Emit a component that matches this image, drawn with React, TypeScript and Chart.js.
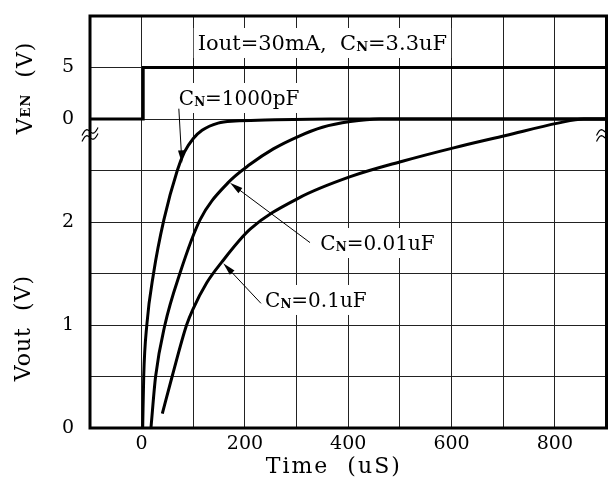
import React, { useEffect, useRef } from 'react';
import { Chart, registerables } from 'chart.js';

Chart.register(...registerables);

// ---- Data ----
const xTickStep = 100;
const xLabelEvery = 200;
// Enable signal V_EN (V)
const enTime = [-100, 3, 3, 900];
const enVolt = [0, 0, 5, 5];
// Vout curves (time in uS, Vout in V)
const c1000pTime = [2, 4, 10, 23, 43, 69, 83, 100, 117, 148, 181, 239, 365, 900];
const c1000pVolt = [0, 0.5, 1.0, 1.5, 2.02, 2.5, 2.68, 2.81, 2.89, 2.96, 2.98, 2.99, 3.0, 3.0];
const c001uTime = [18, 27, 45, 74, 113, 167, 210, 255, 303, 350, 404, 460, 900];
const c001uVolt = [0, 0.5, 1.0, 1.5, 2.02, 2.38, 2.56, 2.71, 2.83, 2.92, 2.975, 3.0, 3.0];
const c01uTime = [40, 59, 87, 99, 126, 155, 210, 303, 404, 505, 604, 705, 806, 856, 900];
const c01uVolt = [0.14, 0.5, 1.0, 1.15, 1.41, 1.61, 1.93, 2.23, 2.44, 2.59, 2.72, 2.84, 2.96, 3.0, 3.0];
// Left axis labels: lower part Vout, upper part V_EN (offset 3, scale 0.1)
const yTickValues = [0, 1, 2, 3, 3.5];
const yTickTexts = ['0', '1', '2', '0', '5'];
const enOffset = 3;
const enScale = 0.1;

const FONT = 'DejaVu Serif';

type Part = [string, boolean];

function richWidth(ctx: CanvasRenderingContext2D, parts: Part[], size: number) {
  let w = 0;
  for (const [t, sub] of parts) {
    ctx.font = sub ? `bold ${Math.round(size * 0.6)}px "${FONT}"` : `${size}px "${FONT}"`;
    w += ctx.measureText(t).width;
  }
  return w;
}

function drawRich(ctx: CanvasRenderingContext2D, x: number, y: number, parts: Part[], size: number) {
  let cx = x;
  for (const [t, sub] of parts) {
    ctx.font = sub ? `bold ${Math.round(size * 0.6)}px "${FONT}"` : `${size}px "${FONT}"`;
    ctx.fillText(t, cx, sub ? y + 1 : y);
    cx += ctx.measureText(t).width;
  }
  return cx - x;
}

interface Note { parts: Part[]; t: number; v: number; size: number; center?: boolean }
const notes: Note[] = [
  { parts: [['Iout=30mA,  C', false], ['N', true], ['=3.3uF', false]], t: 350, v: 3.67, size: 21, center: true },
  { parts: [['C', false], ['N', true], ['=1000pF', false]], t: 72, v: 3.136, size: 20 },
  { parts: [['C', false], ['N', true], ['=0.01uF', false]], t: 346, v: 1.728, size: 20 },
  { parts: [['C', false], ['N', true], ['=0.1uF', false]], t: 239, v: 1.175, size: 20 },
];
// arrows: tail (t,v) -> tip (t,v)
const arrows = [
  [72, 3.1, 78, 2.57],
  [326, 1.8, 171, 2.38],
  [231, 1.21, 158, 1.6],
];

const overlay = {
  id: 'overlay',
  beforeDatasetsDraw(chart: any) {
    const ctx: CanvasRenderingContext2D = chart.ctx;
    const xs = chart.scales.x, ys = chart.scales.y;
    ctx.save();
    ctx.letterSpacing = '0px';
    ctx.textBaseline = 'alphabetic';
    for (const n of notes) {
      const size = n.size;
      const w = richWidth(ctx, n.parts, size);
      let x = xs.getPixelForValue(n.t);
      if (n.center) x -= w / 2;
      const y = ys.getPixelForValue(n.v);
      ctx.fillStyle = '#fff';
      ctx.fillRect(x - 4, y - 22, w + 8, 30);
      ctx.fillStyle = '#000';
      drawRich(ctx, x, y, n.parts, size);
    }
    ctx.restore();
  },
  afterDraw(chart: any) {
    const ctx: CanvasRenderingContext2D = chart.ctx;
    const a = chart.chartArea;
    const xs = chart.scales.x, ys = chart.scales.y;
    ctx.save();
    // arrows
    ctx.strokeStyle = '#000';
    ctx.fillStyle = '#000';
    ctx.lineWidth = 1;
    for (const [t0, v0, t1, v1] of arrows) {
      const x0 = xs.getPixelForValue(t0), y0 = ys.getPixelForValue(v0);
      const x1 = xs.getPixelForValue(t1), y1 = ys.getPixelForValue(v1);
      const ang = Math.atan2(y1 - y0, x1 - x0);
      const L = 13, H = 3.2;
      ctx.beginPath();
      ctx.moveTo(x0, y0);
      ctx.lineTo(x1 - Math.cos(ang) * L * 0.8, y1 - Math.sin(ang) * L * 0.8);
      ctx.stroke();
      ctx.beginPath();
      ctx.moveTo(x1, y1);
      ctx.lineTo(x1 - Math.cos(ang) * L - Math.sin(ang) * H, y1 - Math.sin(ang) * L + Math.cos(ang) * H);
      ctx.lineTo(x1 - Math.cos(ang) * L + Math.sin(ang) * H, y1 - Math.sin(ang) * L - Math.cos(ang) * H);
      ctx.closePath();
      ctx.fill();
    }
    // frame
    ctx.lineWidth = 3;
    ctx.strokeRect(a.left, a.top, a.right - a.left, a.bottom - a.top);
    // break marks
    const yb = ys.getPixelForValue(2.85);
    ctx.lineWidth = 1.2;
    for (const cx of [a.left, a.right - 2]) {
      for (const dy of [-3, 3]) {
        ctx.beginPath();
        for (let i = 0; i <= 20; i++) {
          const s = i / 20;
          const x = cx - 8 + 16 * s;
          const y = yb + dy + 4 - 8 * s - 3.5 * Math.sin(2 * Math.PI * s);
          if (i === 0) ctx.moveTo(x, y); else ctx.lineTo(x, y);
        }
        ctx.stroke();
      }
    }
    // axis titles
    ctx.fillStyle = '#000';
    ctx.letterSpacing = '2px';
    ctx.font = `22px "${FONT}"`;
    ctx.textAlign = 'center';
    ctx.textBaseline = 'middle';
    ctx.fillText('Time  (uS)', xs.getPixelForValue(372), 467);
    // Vout title
    ctx.letterSpacing = '1px';
    ctx.save();
    ctx.translate(24, ys.getPixelForValue(0.97));
    ctx.rotate(-Math.PI / 2);
    ctx.fillText('Vout  (V)', 0, 0);
    ctx.restore();
    // V_EN title
    ctx.save();
    ctx.translate(26, ys.getPixelForValue(3.33));
    ctx.rotate(-Math.PI / 2);
    ctx.textAlign = 'left';
    ctx.textBaseline = 'middle';
    const parts: Part[] = [['V', false], ['EN', true], ['  (V)', false]];
    const w = richWidth(ctx, parts, 22) + 6;
    drawRich(ctx, -w / 2, 0, parts, 22);
    ctx.restore();
    ctx.restore();
  },
};

export default function App() {
  const ref = useRef<HTMLCanvasElement>(null);
  useEffect(() => {
    const canvas = ref.current!;
    const mk = (ts: number[], vs: number[]) => ts.map((t, i) => ({ x: t, y: vs[i] }));
    const lineStyle = {
      showLine: true,
      borderColor: '#000',
      borderWidth: 3,
      pointRadius: 0,
      fill: false,
      cubicInterpolationMode: 'monotone' as const,
    };
    const chart = new Chart(canvas, {
      type: 'scatter',
      data: {
        datasets: [
          { ...lineStyle, label: 'VEN', data: enTime.map((t, i) => ({ x: t, y: enOffset + enVolt[i] * enScale })), cubicInterpolationMode: 'default', tension: 0 },
          { ...lineStyle, label: 'CN=1000pF', data: mk(c1000pTime, c1000pVolt) },
          { ...lineStyle, label: 'CN=0.01uF', data: mk(c001uTime, c001uVolt) },
          { ...lineStyle, label: 'CN=0.1uF', data: mk(c01uTime, c01uVolt) },
        ],
      },
      options: {
        animation: false,
        responsive: false,
        events: [],
        layout: { padding: { top: 16, right: 1.5, left: 0, bottom: 0 } },
        plugins: { legend: { display: false }, tooltip: { enabled: false } },
        scales: {
          x: {
            type: 'linear',
            min: -100,
            max: 900,
            afterFit: (s: any) => { s.height = 58; s.paddingLeft = 0; s.paddingRight = 0; },
            ticks: {
              stepSize: xTickStep,
              autoSkip: false,
              maxRotation: 0,
              padding: 5,
              color: '#000',
              font: { family: FONT, size: 19 },
              callback: (v: any) => (Number(v) % xLabelEvery === 0 ? String(v) : ''),
            },
            grid: { color: '#222', lineWidth: 1, drawTicks: false },
            border: { display: false },
          },
          y: {
            type: 'linear',
            min: 0,
            max: 4,
            afterFit: (s: any) => { s.width = 90; s.paddingTop = 0; s.paddingBottom = 0; },
            ticks: {
              stepSize: 0.5,
              autoSkip: false,
              padding: 16,
              color: '#000',
              font: { family: FONT, size: 19 },
              callback: (v: any) => {
                const i = yTickValues.findIndex((x) => Math.abs(x - Number(v)) < 1e-6);
                return i >= 0 ? yTickTexts[i] : '';
              },
            },
            grid: { color: '#222', lineWidth: 1, drawTicks: false },
            border: { display: false },
          },
        },
      },
      plugins: [overlay],
    });
    return () => chart.destroy();
  }, []);
  return (
    <div style={{ position: 'absolute', left: 0, top: 0, width: 608, height: 486, background: '#fff' }}>
      <canvas ref={ref} width={608} height={486} style={{ display: 'block', width: 608, height: 486 }} />
    </div>
  );
}
